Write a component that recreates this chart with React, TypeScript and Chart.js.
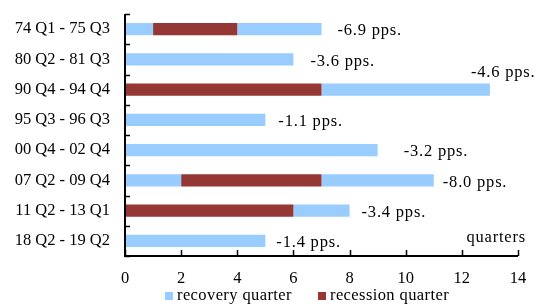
import React, { useEffect, useRef } from 'react';
import { Chart, registerables } from 'chart.js';

Chart.register(...registerables);

const categories = [
  '74 Q1 - 75 Q3',
  '80 Q2 - 81 Q3',
  '90 Q4 - 94 Q4',
  '95 Q3 - 96 Q3',
  '00 Q4 - 02 Q4',
  '07 Q2 - 09 Q4',
  '11 Q2 - 13 Q1',
  '18 Q2 - 19 Q2',
];
// quarters of recovery before the recession segment
const recoveryBefore = [1, 6, 0, 5, 9, 2, 0, 5];
// recession quarters
const recession = [3, 0, 7, 0, 0, 5, 6, 0];
// recovery quarters after the recession segment
const recoveryAfter = [3, 0, 6, 0, 0, 4, 2, 0];
const changeLabels = ['-6.9 pps.', '-3.6 pps.', '-4.6 pps.', '-1.1 pps.', '-3.2 pps.', '-8.0 pps.', '-3.4 pps.', '-1.4 pps.'];
const xTickValues = [0, 2, 4, 6, 8, 10, 12, 14];
const legendLabels = ['recovery quarter', 'recession quarter'];
const axisUnit = 'quarters';

const BLUE = '#99CCFF';
const RED = '#953735';
const FONT = '"Liberation Serif", "Times New Roman", serif';
const FS = 16.5;

export default function App() {
  const ref = useRef<HTMLCanvasElement | null>(null);

  useEffect(() => {
    document.body.style.margin = '0';
    const canvas = ref.current;
    if (!canvas) return;

    // gaps (px) between bar end and its annotation; null = place above bar end
    const labelGap: (number | null)[] = [16, 17, null, 13, 26, 9, 12, 11];

    const overlay = {
      id: 'overlay',
      afterDraw(chart: any) {
        const { ctx, chartArea, scales } = chart;
        const { left, right, top, bottom } = chartArea;
        const xs = scales.x;
        const ys = scales.y;
        ctx.save();
        ctx.strokeStyle = '#000';
        ctx.lineWidth = 2;
        ctx.beginPath();
        ctx.moveTo(left, top);
        ctx.lineTo(left, bottom);
        ctx.lineTo(right, bottom);
        ctx.stroke();
        ctx.lineWidth = 1.5;
        const n = categories.length;
        ctx.beginPath();
        for (let i = 0; i <= n; i++) {
          const y = Math.round(top + (i * (bottom - top)) / n) + 0.5;
          ctx.moveTo(left, y);
          ctx.lineTo(left + 5, y);
        }
        for (const v of xTickValues) {
          const x = Math.round(xs.getPixelForValue(v)) + 0.5;
          ctx.moveTo(x, bottom);
          ctx.lineTo(x, bottom - 6);
        }
        ctx.stroke();

        ctx.fillStyle = '#000';
        ctx.font = `${FS}px ${FONT}`;
        (ctx as any).letterSpacing = '0.8px';
        ctx.textBaseline = 'middle';
        ctx.textAlign = 'left';
        for (let i = 0; i < n; i++) {
          const total = recoveryBefore[i] + recession[i] + recoveryAfter[i];
          const xEnd = xs.getPixelForValue(total);
          const yc = ys.getPixelForValue(i);
          const gap = labelGap[i];
          if (gap === null) {
            ctx.fillText(changeLabels[i], xEnd - 19, yc - 17);
          } else {
            ctx.fillText(changeLabels[i], xEnd + gap, yc + 2);
          }
        }
        ctx.textAlign = 'right';
        ctx.fillText(axisUnit, right + 8, bottom - 18);

        // legend
        (ctx as any).letterSpacing = '0.4px';
        ctx.textAlign = 'left';
        const legendY = 296;
        const colors = [BLUE, RED];
        const boxX = [165, 318];
        for (let k = 0; k < 2; k++) {
          ctx.fillStyle = colors[k];
          ctx.fillRect(boxX[k], legendY - 4, 8, 8);
          ctx.fillStyle = '#000';
          ctx.fillText(legendLabels[k], boxX[k] + 12, legendY);
        }
        ctx.restore();
      },
    };

    const chart = new Chart(canvas, {
      type: 'bar',
      data: {
        labels: categories,
        datasets: [
          { label: legendLabels[0], data: recoveryBefore, backgroundColor: BLUE, stack: 's' },
          { label: legendLabels[1], data: recession, backgroundColor: RED, stack: 's' },
          { label: legendLabels[0] + ' ', data: recoveryAfter, backgroundColor: BLUE, stack: 's' },
        ],
      },
      options: {
        indexAxis: 'y',
        responsive: false,
        animation: false,
        datasets: { bar: { barPercentage: 0.4, categoryPercentage: 1, borderWidth: 0 } },
        layout: { padding: { top: 14, right: 18, bottom: 0, left: 0 } },
        plugins: { legend: { display: false }, tooltip: { enabled: false } },
        scales: {
          x: {
            type: 'linear',
            stacked: true,
            min: 0,
            max: 14,
            grid: { display: false, drawTicks: false },
            border: { display: false },
            ticks: { stepSize: 2, padding: 13, color: '#000', font: { family: FONT, size: FS } },
            afterFit: (s: any) => {
              s.height = 48;
              s.paddingLeft = 0;
              s.paddingRight = 0;
            },
          },
          y: {
            type: 'category',
            stacked: true,
            grid: { display: false, drawTicks: false, offset: true },
            border: { display: false },
            ticks: { padding: 15, color: '#000', font: { family: FONT, size: FS } },
            afterFit: (s: any) => {
              s.width = 125;
              s.paddingTop = 0;
              s.paddingBottom = 0;
            },
          },
        },
      },
      plugins: [overlay],
    });
    return () => chart.destroy();
  }, []);

  return (
    <div style={{ position: 'absolute', left: 0, top: 0, width: 536, height: 304 }}>
      <canvas ref={ref} width={536} height={304} />
    </div>
  );
}
